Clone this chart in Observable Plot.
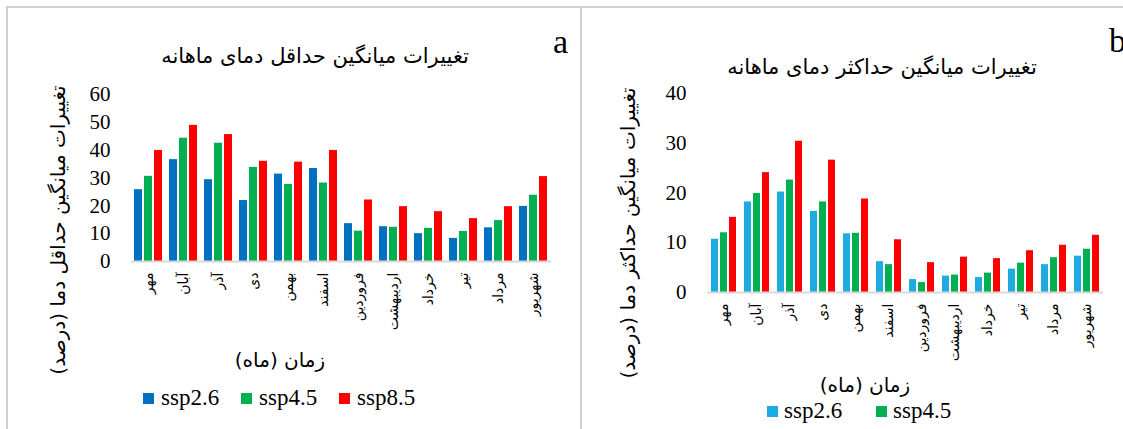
<!DOCTYPE html>
<html>
<head>
<meta charset="utf-8">
<script src="https://cdn.jsdelivr.net/npm/d3@7"></script>
<script src="https://cdn.jsdelivr.net/npm/@observablehq/plot@0.6"></script>
<style>
  html, body { margin: 0; padding: 0; background: #fff; }
  #wrap { position: relative; width: 1123px; height: 429px; overflow: hidden; background: #fff; }
  #wrap > * { position: absolute; }
  svg text { fill: #000; }
  .yax text { font-family: 'Liberation Serif', 'Times New Roman', serif !important; font-size: 21px !important; }
  .fxax text { font-family: 'DejaVu Sans', sans-serif !important; font-size: 14px !important; }
</style>
</head>
<body>
<div id="wrap"></div>
<script>
// ---------- data ----------
const months = ["مهر","آبان","آذر","دی","بهمن","اسفند","فروردین","اردیبهشت","خرداد","تیر","مرداد","شهریور"];
const scenarios = ["ssp2.6","ssp4.5","ssp8.5"];

// panel a: change of mean monthly minimum temperature (%)
const minSsp26 = [25.8,36.6,29.4,21.9,31.4,33.4,13.6,12.5,10.0,8.3,12.1,19.8];
const minSsp45 = [30.6,44.3,42.5,33.8,27.7,28.2,10.9,12.3,11.9,10.8,14.7,23.8];
const minSsp85 = [39.9,48.9,45.6,36.0,35.7,39.9,22.1,19.7,17.9,15.4,19.7,30.5];

// panel b: change of mean monthly maximum temperature (%)
const maxSsp26 = [10.7,18.2,20.2,16.3,11.8,6.2,2.6,3.3,3.0,4.7,5.6,7.3];
const maxSsp45 = [12.0,19.9,22.6,18.2,11.9,5.6,2.0,3.5,3.9,5.9,7.0,8.7];
const maxSsp85 = [15.1,24.1,30.4,26.6,18.8,10.6,6.0,7.1,6.8,8.4,9.5,11.5];

const yTicksMin = [0,10,20,30,40,50,60];
const yTicksMax = [0,10,20,30,40];

const titleMin = "تغییرات میانگین حداقل دمای ماهانه";
const titleMax = "تغییرات میانگین حداکثر دمای ماهانه";
const yLabelMin = "تغییرات میانگین حداقل دما (درصد)";
const yLabelMax = "تغییرات میانگین حداکثر دما (درصد)";
const xLabel = "زمان (ماه)";

const colorsA = ["#0070C0","#00B050","#FF0000"];
const colorsB = ["#1EABE2","#00B050","#FF0000"];

function toRows(a, b, c) {
  const rows = [];
  months.forEach((m, i) => {
    rows.push({month: m, scenario: scenarios[0], value: a[i]});
    rows.push({month: m, scenario: scenarios[1], value: b[i]});
    rows.push({month: m, scenario: scenarios[2], value: c[i]});
  });
  return rows;
}

const AR = "'DejaVu Sans', sans-serif";
const SERIF = "'Liberation Serif', 'Times New Roman', serif";

function panel(rows, opts) {
  return Plot.plot({
    width: opts.width, height: opts.height,
    marginLeft: opts.ml, marginRight: opts.mr, marginTop: opts.mt, marginBottom: opts.mb,
    style: {background: "transparent", overflow: "visible"},
    fx: {domain: months, padding: 0, label: null},
    x: {domain: scenarios, paddingInner: opts.pi, paddingOuter: opts.po, axis: null},
    y: {domain: opts.ydom, label: null},
    color: {domain: scenarios, range: opts.colors},
    marks: [
      Plot.barY(rows, {fx: "month", x: "scenario", y: "value", fill: "scenario"}),
      Plot.ruleY([0], {stroke: "#d9d9d9", strokeWidth: 2}),
      Plot.axisY({ticks: opts.yticks, tickSize: 0, tickPadding: 21, tickFormat: d => String(d),
        fontSize: 21, fontFamily: SERIF, label: null, className: "yax"}),
      Plot.axisFx({anchor: "bottom", tickRotate: -90, tickSize: 0, tickPadding: 11,
        fontSize: 14, fontFamily: AR, label: null, className: "fxax"})
    ]
  });
}

const wrap = document.getElementById("wrap");

const pa = panel(toRows(minSsp26, minSsp45, minSsp85), {
  width: 580, height: 341, ml: 130, mr: 29, mt: 94, mb: 80,
  pi: 0.17, po: 0.335, ydom: [0, 60], yticks: yTicksMin, colors: colorsA
});
pa.style.left = "0px"; pa.style.top = "0px";
wrap.appendChild(pa);

const pb = panel(toRows(maxSsp26, maxSsp45, maxSsp85), {
  width: 542, height: 372, ml: 122, mr: 16, mt: 93, mb: 80,
  pi: 0.25, po: 0.31, ydom: [0, 40], yticks: yTicksMax, colors: colorsB
});
pb.style.left = "581px"; pb.style.top = "0px";
wrap.appendChild(pb);

// ---------- overlay: frame, titles, axis titles, legends ----------
const ns = "http://www.w3.org/2000/svg";
const ov = document.createElementNS(ns, "svg");
ov.setAttribute("width", 1123); ov.setAttribute("height", 429);
ov.style.left = "0px"; ov.style.top = "0px"; ov.style.pointerEvents = "none";
wrap.appendChild(ov);

function el(tag, attrs, text) {
  const e = document.createElementNS(ns, tag);
  for (const k in attrs) e.setAttribute(k, attrs[k]);
  if (text != null) e.textContent = text;
  ov.appendChild(e);
  return e;
}

// frame lines
el("path", {d: "M7,429V7H1123M581,7V429", fill: "none", stroke: "#CDD1D4", "stroke-width": 2});

// panel letters
el("text", {x: 553, y: 53, "font-family": SERIF, "font-size": 34}, "a");
el("text", {x: 1109, y: 52, "font-family": SERIF, "font-size": 34}, "b");

// titles
el("text", {x: 315, y: 63, "text-anchor": "middle", "font-family": AR, "font-size": 21}, titleMin);
el("text", {x: 882, y: 74, "text-anchor": "middle", "font-family": AR, "font-size": 21}, titleMax);

// y-axis titles
el("text", {transform: "translate(58,230) rotate(-90)", "text-anchor": "middle", dy: "0.35em",
  "font-family": AR, "font-size": 20}, yLabelMin);
el("text", {transform: "translate(628,233) rotate(-90)", "text-anchor": "middle", dy: "0.35em",
  "font-family": AR, "font-size": 20}, yLabelMax);

// x-axis titles
el("text", {x: 280, y: 360, "text-anchor": "middle", dy: "0.35em", "font-family": AR, "font-size": 20}, xLabel);
el("text", {x: 865, y: 385, "text-anchor": "middle", dy: "0.35em", "font-family": AR, "font-size": 20}, xLabel);

// legends
const legA = [143, 241, 339];
scenarios.forEach((s, i) => {
  el("rect", {x: legA[i], y: 393, width: 11, height: 11, fill: colorsA[i]});
  el("text", {x: legA[i] + 18, y: 405, "font-family": SERIF, "font-size": 23}, s);
});
const legB = [767, 876];
legB.forEach((x, i) => {
  el("rect", {x: x, y: 406, width: 11, height: 11, fill: colorsB[i]});
  el("text", {x: x + 17, y: 418, "font-family": SERIF, "font-size": 23}, scenarios[i]);
});
</script>
</body>
</html>
